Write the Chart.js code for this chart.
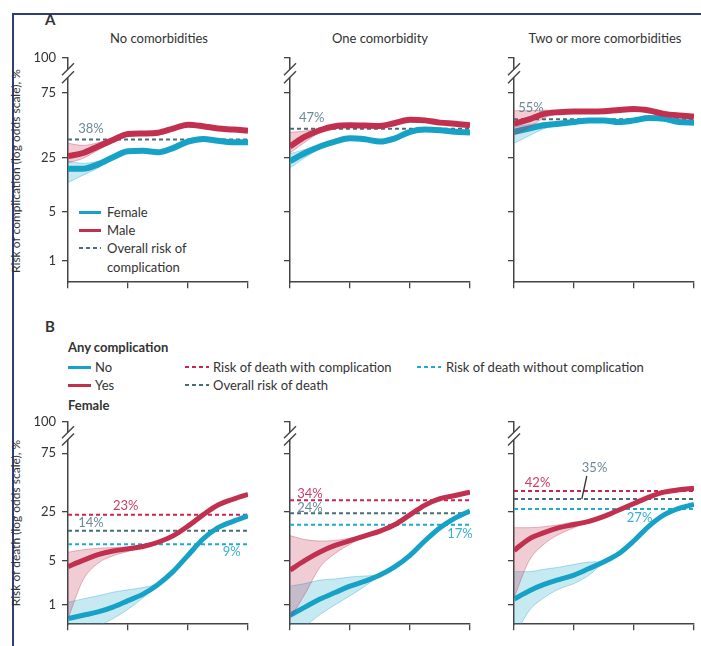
<!DOCTYPE html>
<html>
<head>
<meta charset="utf-8">
<title>Risk of complication and death</title>
<script src="https://cdn.jsdelivr.net/npm/chart.js@4.4.1/dist/chart.umd.min.js"></script>
<style>
  body { margin: 0; background: #fff; font-family: Lato, "Open Sans", sans-serif; color: #333; }
  #page { position: relative; width: 701px; height: 646px; overflow: hidden; }
  .frame { position: absolute; left: 12px; top: 13px; width: 700px; height: 640px;
           border-left: 2px solid #2d3f78; border-top: 2px solid #2d3f78; }
  .t { position: absolute; font-size: 13px; line-height: 16px; height: 16px; white-space: nowrap; }
  .b { font-weight: bold; }
  .c { transform: translateX(-50%); }
  .rot { position: absolute; font-size: 12px; line-height: 14px; width: 260px; text-align: center;
         transform: rotate(-90deg); white-space: nowrap; }
  .ln { position: absolute; height: 3px; }
  .dash { position: absolute; height: 2px; }
  canvas { position: absolute; }
</style>
</head>
<body>
<div id="page">
  <div class="frame"></div>

  <div class="t b" style="left:45px;top:11px;font-size:15px;">A</div>
  <div class="t c" style="left:159px;top:30px;">No comorbidities</div>
  <div class="t c" style="left:380px;top:30px;">One comorbidity</div>
  <div class="t c" style="left:605px;top:30px;">Two or more comorbidities</div>
  <div class="rot" style="left:-114px;top:164px;">Risk of complication (log odds scale), %</div>

  <div class="ln" style="left:79px;top:211px;width:22px;background:#16a2c7;"></div>
  <div class="t" style="left:107px;top:204px;">Female</div>
  <div class="ln" style="left:79px;top:229px;width:22px;background:#c2304f;"></div>
  <div class="t" style="left:107px;top:222px;">Male</div>
  <div class="dash" style="left:79px;top:247px;width:22px;background:repeating-linear-gradient(90deg,#4a6b78 0 4px,transparent 4px 7px);"></div>
  <div class="t" style="left:107px;top:240px;">Overall risk of</div>
  <div class="t" style="left:107px;top:259px;">complication</div>

  <div class="t b" style="left:45px;top:318px;font-size:15px;">B</div>
  <div class="t b" style="left:68px;top:339px;">Any complication</div>
  <div class="ln" style="left:68px;top:366px;width:23px;background:#16a2c7;"></div>
  <div class="t" style="left:95px;top:359px;">No</div>
  <div class="ln" style="left:68px;top:384px;width:23px;background:#c2304f;"></div>
  <div class="t" style="left:95px;top:377px;">Yes</div>
  <div class="t b" style="left:68px;top:397px;">Female</div>
  <div class="dash" style="left:185px;top:366px;width:24px;background:repeating-linear-gradient(90deg,#c8264f 0 4px,transparent 4px 7px);"></div>
  <div class="t" style="left:213px;top:359px;">Risk of death with complication</div>
  <div class="dash" style="left:185px;top:384px;width:24px;background:repeating-linear-gradient(90deg,#4a6b78 0 4px,transparent 4px 7px);"></div>
  <div class="t" style="left:213px;top:377px;">Overall risk of death</div>
  <div class="dash" style="left:417px;top:366px;width:24px;background:repeating-linear-gradient(90deg,#1eaad0 0 4px,transparent 4px 7px);"></div>
  <div class="t" style="left:446px;top:359px;">Risk of death without complication</div>
  <div class="rot" style="left:-114px;top:516px;">Risk of death (log odds scale), %</div>

  <canvas id="a1" width="233" height="252" style="left:23px;top:44px;"></canvas>
  <canvas id="a2" width="233" height="252" style="left:245px;top:44px;"></canvas>
  <canvas id="a3" width="233" height="252" style="left:469px;top:44px;"></canvas>
  <canvas id="b1" width="233" height="230" style="left:23px;top:408px;"></canvas>
  <canvas id="b2" width="233" height="230" style="left:245px;top:408px;"></canvas>
  <canvas id="b3" width="233" height="230" style="left:469px;top:408px;"></canvas>
</div>

<script>
// positions along the (unlabelled) x axis, and its ticks
var xSteps = [0, 0.25, 0.5, 0.75, 1, 1.25, 1.5, 1.75, 2, 2.25, 2.5, 2.75, 3];
var xTicks = [0, 1, 2, 3];
var yTickPct = [1, 5, 25, 75, 100];
var yTickLabels = ['1', '5', '25', '75', '100'];

// A: risk of complication, %
var femaleNoComorb  = [18.6, 18.6, 20.9, 25.2, 29.2, 29.6, 28.5, 31.5, 36.4, 38.5, 37.0, 35.9, 35.9];
var maleNoComorb    = [25.9, 28.0, 32.7, 37.7, 42.5, 43.0, 43.6, 47.1, 50.4, 49.1, 47.1, 46.3, 45.2];
var femaleOneComorb = [22.8, 28.0, 32.7, 36.4, 39.0, 38.2, 36.4, 39.0, 44.4, 46.3, 45.7, 44.4, 43.8];
var maleOneComorb   = [32.7, 40.3, 45.7, 49.1, 49.9, 49.6, 49.3, 51.8, 54.5, 54.0, 52.1, 51.2, 49.9];
var femaleTwoComorb = [44.4, 47.1, 49.9, 51.2, 52.6, 54.0, 54.0, 52.6, 54.0, 55.9, 55.4, 52.6, 52.1];
var maleTwoComorb   = [51.2, 54.8, 59.4, 60.8, 61.3, 61.3, 61.5, 62.6, 63.3, 62.1, 59.4, 58.1, 57.3];

// spread of the resampled curves near the start
var femaleNoComorbLo  = [12.5, 15.5, 19.0, 24.5, 29.2];
var femaleNoComorbHi  = [22.8, 21.5, 22.8, 26.0, 29.2];
var maleNoComorbLo    = [21.8, 24.5, 30.0, 36.0, 42.5];
var maleNoComorbHi    = [35.1, 33.5, 35.5, 39.5, 42.5];
var femaleOneComorbLo = [19.0, 25.0, 31.0, 36.4];
var femaleOneComorbHi = [27.5, 30.5, 34.0, 36.4];
var maleOneComorbLo   = [28.0, 36.0, 44.0, 49.1];
var maleOneComorbHi   = [44.0, 45.0, 47.5, 49.1];
var femaleTwoComorbLo = [35.1, 41.0, 47.0, 50.0, 52.6];
var femaleTwoComorbHi = [48.5, 50.5, 52.0, 52.5, 52.6];
var maleTwoComorbLo   = [41.7, 48.0, 56.0, 59.5, 61.3];
var maleTwoComorbHi   = [62.0, 62.0, 62.5, 62.0, 61.3];

var overallComplication = [38, 47, 55];

// B: risk of death (female), %
var noCompNoComorb   = [0.6, 0.68, 0.77, 0.92, 1.17, 1.49, 2.13, 3.4, 6.1, 10.7, 15.5, 18.9, 22.3];
var yesCompNoComorb  = [4.07, 5.1, 6.25, 7.1, 7.65, 8.3, 9.6, 11.9, 16.3, 22.9, 30.0, 34.8, 39.1];
var noCompOneComorb  = [0.68, 0.92, 1.24, 1.58, 2.0, 2.4, 3.0, 4.07, 6.1, 10.1, 15.5, 20.8, 25.6];
var yesCompOneComorb = [3.6, 5.1, 6.85, 8.6, 10.1, 11.9, 13.9, 17.1, 22.9, 30.0, 35.3, 38.1, 41.1];
var noCompTwoComorb  = [1.24, 1.68, 2.13, 2.55, 3.0, 3.8, 4.85, 6.5, 10.1, 16.3, 22.9, 27.5, 30.5];
var yesCompTwoComorb = [7.2, 10.7, 13.2, 15.5, 17.1, 18.9, 21.9, 26.3, 31.3, 36.7, 41.1, 43.2, 44.6];

var noCompNoComorbLo   = [0.3, 0.35, 0.45, 0.6, 0.85, 1.3, 2.13];
var noCompNoComorbHi   = [1.1, 1.25, 1.4, 1.6, 1.75, 1.9, 2.13];
var yesCompNoComorbLo  = [0.6, 2.5, 4.6, 6.0, 7.0, 8.3];
var yesCompNoComorbHi  = [6.8, 7.4, 7.8, 8.0, 8.2, 8.3];
var noCompOneComorbLo  = [0.3, 0.45, 0.7, 1.0, 1.4, 2.0, 3.0];
var noCompOneComorbHi  = [2.0, 2.2, 2.5, 2.6, 2.8, 2.9, 3.0];
var yesCompOneComorbLo = [0.6, 1.5, 4.0, 6.5, 9.0, 11.9];
var yesCompOneComorbHi = [12.0, 10.5, 10.0, 10.2, 11.0, 11.9];
var noCompTwoComorbLo  = [0.3, 0.8, 1.3, 1.8, 2.2, 3.0, 4.85];
var noCompTwoComorbHi  = [3.4, 3.4, 3.7, 4.0, 4.4, 4.8, 4.85];
var yesCompTwoComorbLo = [1.3, 5.0, 9.0, 12.5, 15.5, 18.9];
var yesCompTwoComorbHi = [15.5, 15.5, 16.0, 17.0, 18.5, 18.9];

var deathWithComplication    = [23, 34, 42];
var deathOverall             = [14, 24, 35];
var deathWithoutComplication = [9, 17, 27];

var CYAN = '#16a2c7', RED = '#c2304f', SLATE = '#4a6b78';
var Y_MIN = -5.32, Y_MAX = 2.28;   // log odds range of every panel

function logit(pct) { var p = pct / 100; return Math.log(p / (1 - p)); }
function tickPos(pct) { return pct >= 100 ? Y_MAX : logit(pct); }
function pts(vals) { return vals.map(function(v, i) { return { x: xSteps[i], y: logit(v) }; }); }

function curve(vals, color, width) {
  return { data: pts(vals), borderColor: color, borderWidth: width, pointRadius: 0,
           cubicInterpolationMode: 'monotone', fill: false };
}
function spread(lo, hi, rgb) {
  return [
    { data: pts(lo), borderColor: 'rgba(' + rgb + ',0.35)', borderWidth: 1, pointRadius: 0,
      cubicInterpolationMode: 'monotone', fill: false },
    { data: pts(hi), borderColor: 'rgba(' + rgb + ',0.35)', borderWidth: 1, pointRadius: 0,
      cubicInterpolationMode: 'monotone', fill: '-1', backgroundColor: 'rgba(' + rgb + ',0.24)' }
  ];
}
function refLine(pct, color) {
  return { data: [{ x: 0, y: logit(pct) }, { x: 3, y: logit(pct) }], borderColor: color, borderWidth: 2,
           borderDash: [4, 3], pointRadius: 0, fill: false };
}

// percentage labels next to the reference lines
var pctLabels = {
  id: 'pctLabels',
  afterDatasetsDraw: function(chart, args, opts) {
    var ctx = chart.ctx, xs = chart.scales.x, ys = chart.scales.y;
    (opts.items || []).forEach(function(it) {
      var lineY = ys.getPixelForValue(logit(it.value));
      var px = xs.getPixelForValue(it.x), py = lineY + it.dy;
      ctx.save();
      ctx.font = '13px Lato';
      ctx.fillStyle = it.color;
      ctx.textBaseline = 'middle';
      ctx.fillText(it.value + '%', px, py);
      if (it.leader) {
        ctx.strokeStyle = '#333';
        ctx.lineWidth = 1.3;
        ctx.beginPath();
        ctx.moveTo(px + 5, py + 8);
        ctx.lineTo(px, lineY);
        ctx.stroke();
      }
      ctx.restore();
    });
  }
};

// break marks between 75 and 100 on the y axis
var axisBreak = {
  id: 'axisBreak',
  afterDraw: function(chart) {
    var ctx = chart.ctx, ys = chart.scales.y, x = chart.chartArea.left;
    var y100 = ys.getPixelForValue(Y_MAX), y75 = ys.getPixelForValue(logit(75));
    var d = y75 - y100, c1 = y100 + 0.33 * d, c2 = y100 + 0.56 * d;
    ctx.save();
    ctx.fillStyle = '#fff';
    ctx.fillRect(x - 3, c1, 6, c2 - c1);
    ctx.strokeStyle = '#444';
    ctx.lineWidth = 1.4;
    [c1, c2].forEach(function(c) {
      ctx.beginPath();
      ctx.moveTo(x - 6, c + 6);
      ctx.lineTo(x + 6, c - 6);
      ctx.stroke();
    });
    ctx.restore();
  }
};

function makePanel(id, datasets, labels, showY) {
  new Chart(document.getElementById(id), {
    type: 'line',
    data: { datasets: datasets },
    plugins: [pctLabels, axisBreak],
    options: {
      responsive: false,
      animation: false,
      layout: { autoPadding: false, padding: { top: 10, right: 8, left: 0, bottom: 0 } },
      plugins: { legend: { display: false }, tooltip: { enabled: false }, pctLabels: { items: labels } },
      scales: {
        x: {
          type: 'linear', min: 0, max: 3,
          afterBuildTicks: function(s) { s.ticks = xTicks.map(function(v) { return { value: v }; }); },
          afterFit: function(s) { s.height = 12; },
          ticks: { callback: function() { return ''; } },
          grid: { drawOnChartArea: false, tickLength: 6, color: '#444', lineWidth: 1.3 },
          border: { color: '#444', width: 1.5 }
        },
        y: {
          type: 'linear', min: Y_MIN, max: Y_MAX,
          afterBuildTicks: function(s) { s.ticks = yTickPct.map(function(v) { return { value: tickPos(v) }; }); },
          afterFit: function(s) { s.width = 45; },
          ticks: { padding: 6, color: '#333', font: { family: 'Lato', size: 13 },
                   callback: function(v, i) { return showY ? yTickLabels[i] : ''; } },
          grid: { drawOnChartArea: false, tickLength: 6, color: '#444', lineWidth: 1.3 },
          border: { color: '#444', width: 1.5 }
        }
      }
    }
  });
}

var RED_RGB = '194,48,79', CYAN_RGB = '22,162,199';
var SLATE_TXT = '#6b8a95', RED_TXT = '#cc3d63', CYAN_TXT = '#35afd2';

function panelA(id, female, male, fLo, fHi, mLo, mHi, overall, lx, showY) {
  var ds = [curve(male, RED, 6)].concat(spread(mLo, mHi, RED_RGB))
    .concat([curve(female, CYAN, 6)]).concat(spread(fLo, fHi, CYAN_RGB))
    .concat([refLine(overall, SLATE)]);
  makePanel(id, ds, [{ value: overall, color: SLATE_TXT, x: lx, dy: -11 }], showY);
}
function panelB(id, no, yes, nLo, nHi, yLo, yHi, i, labels, showY) {
  var ds = [curve(yes, RED, 5)].concat(spread(yLo, yHi, RED_RGB))
    .concat([curve(no, CYAN, 5)]).concat(spread(nLo, nHi, CYAN_RGB))
    .concat([refLine(deathWithComplication[i], '#c8264f'), refLine(deathOverall[i], SLATE),
             refLine(deathWithoutComplication[i], '#1eaad0')]);
  makePanel(id, ds, labels, showY);
}

panelA('a1', femaleNoComorb, maleNoComorb, femaleNoComorbLo, femaleNoComorbHi, maleNoComorbLo, maleNoComorbHi, overallComplication[0], 0.17, true);
panelA('a2', femaleOneComorb, maleOneComorb, femaleOneComorbLo, femaleOneComorbHi, maleOneComorbLo, maleOneComorbHi, overallComplication[1], 0.15, false);
panelA('a3', femaleTwoComorb, maleTwoComorb, femaleTwoComorbLo, femaleTwoComorbHi, maleTwoComorbLo, maleTwoComorbHi, overallComplication[2], 0.07, false);

panelB('b1', noCompNoComorb, yesCompNoComorb, noCompNoComorbLo, noCompNoComorbHi, yesCompNoComorbLo, yesCompNoComorbHi, 0, [
  { value: deathWithComplication[0], color: RED_TXT, x: 0.75, dy: -9 },
  { value: deathOverall[0], color: SLATE_TXT, x: 0.17, dy: -8 },
  { value: deathWithoutComplication[0], color: CYAN_TXT, x: 2.58, dy: 8 }
], true);
panelB('b2', noCompOneComorb, yesCompOneComorb, noCompOneComorbLo, noCompOneComorbHi, yesCompOneComorbLo, yesCompOneComorbHi, 1, [
  { value: deathWithComplication[1], color: RED_TXT, x: 0.12, dy: -6 },
  { value: deathOverall[1], color: SLATE_TXT, x: 0.12, dy: -5 },
  { value: deathWithoutComplication[1], color: CYAN_TXT, x: 2.62, dy: 9 }
], false);
panelB('b3', noCompTwoComorb, yesCompTwoComorb, noCompTwoComorbLo, noCompTwoComorbHi, yesCompTwoComorbLo, yesCompTwoComorbHi, 2, [
  { value: deathWithComplication[2], color: RED_TXT, x: 0.18, dy: -8 },
  { value: deathOverall[2], color: SLATE_TXT, x: 1.13, dy: -31, leader: true },
  { value: deathWithoutComplication[2], color: CYAN_TXT, x: 1.88, dy: 9 }
], false);
</script>
</body>
</html>
